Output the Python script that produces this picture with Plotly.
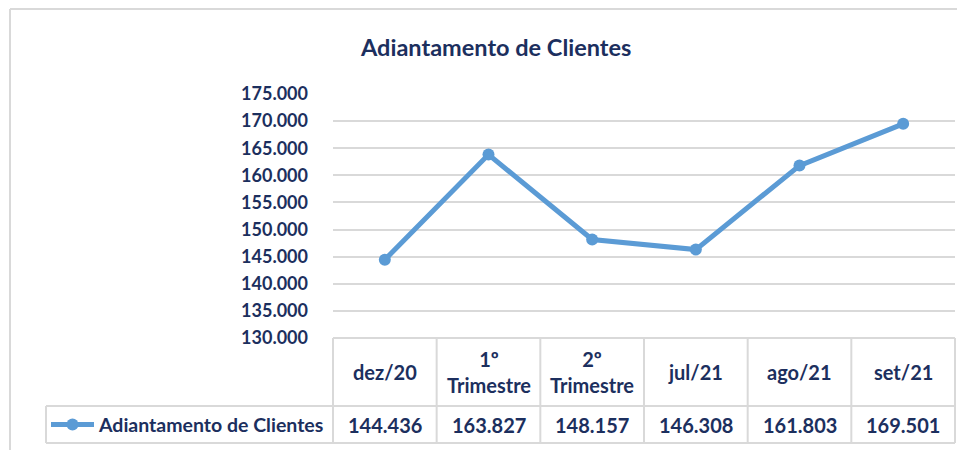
import plotly.graph_objects as go

categories = ["dez/20", "1º<br>Trimestre", "2º<br>Trimestre", "jul/21", "ago/21", "set/21"]
values = [144436, 163827, 148157, 146308, 161803, 169501]
series_name = "Adiantamento de Clientes"
title_text = "Adiantamento de Clientes"
y_ticks = [130000, 135000, 140000, 145000, 150000, 155000, 160000, 165000, 170000, 175000]

# page body has an 8px margin; figure coords = screen coords - 8
OFF = 8
W, H = 965 - OFF, 450 - OFF
L = 333 - OFF
R = W - (955 - OFF)
T = 94 - OFF
B = H - (338 - OFF)
PW = W - L - R
PH = H - T - B
NAVY = "#1C2F5E"
BLUE = "#5B9BD5"
GRID = "#D9D9D9"
FONT = "Lato"


def px(x):
    return (x - OFF - L) / PW


def py(y):
    return (H - B - (y - OFF)) / PH


def fmt(v):
    return f"{v:,}".replace(",", ".")


x_idx = list(range(len(categories)))

fig = go.Figure()
fig.add_trace(go.Scatter(
    x=x_idx, y=values, mode="lines+markers", name=series_name,
    line=dict(color=BLUE, width=5),
    marker=dict(color=BLUE, size=12),
    hoverinfo="skip", showlegend=False,
))

shapes = []
annotations = []

# outer chart border (left and top)
shapes.append(dict(type="line", xref="paper", yref="paper", x0=px(10), x1=px(965), y0=py(9), y1=py(9),
                   line=dict(color=GRID, width=2)))
shapes.append(dict(type="line", xref="paper", yref="paper", x0=px(10), x1=px(10), y0=py(9), y1=py(450),
                   line=dict(color=GRID, width=2)))

# data table
n = len(categories)
col_w = 1.0 / n
y_top = 0.0
y_mid = py(406)
y_bot = py(443)
x_leg = px(46)
for y0, xs in ((y_top, 0), (y_mid, x_leg), (y_bot, x_leg)):
    shapes.append(dict(type="line", xref="paper", yref="paper", x0=xs, x1=1, y0=y0, y1=y0,
                       line=dict(color=GRID, width=2)))
for i in range(n + 1):
    shapes.append(dict(type="line", xref="paper", yref="paper", x0=i * col_w, x1=i * col_w, y0=y_top, y1=y_bot,
                       line=dict(color=GRID, width=2)))
shapes.append(dict(type="line", xref="paper", yref="paper", x0=x_leg, x1=x_leg, y0=y_mid, y1=y_bot,
                   line=dict(color=GRID, width=2)))

for i, (c, v) in enumerate(zip(categories, values)):
    xc = (i + 0.5) * col_w
    annotations.append(dict(xref="paper", yref="paper", x=xc, y=(y_top + y_mid) / 2, text=c,
                            showarrow=False, xanchor="center", yanchor="middle",
                            font=dict(family=FONT, size=20, color=NAVY, weight="bold")))
    annotations.append(dict(xref="paper", yref="paper", x=xc, y=(y_mid + y_bot) / 2, text=fmt(v),
                            showarrow=False, xanchor="center", yanchor="middle",
                            font=dict(family=FONT, size=20, color=NAVY, weight="bold")))

# legend key in table
ly = (y_mid + y_bot) / 2
shapes.append(dict(type="line", xref="paper", yref="paper", x0=px(51), x1=px(94), y0=ly, y1=ly,
                   line=dict(color=BLUE, width=5)))
shapes.append(dict(type="circle", xref="paper", yref="paper", x0=px(66.5), x1=px(78.5),
                   y0=ly - 6 / PH, y1=ly + 6 / PH, fillcolor=BLUE, line=dict(color=BLUE, width=0)))
annotations.append(dict(xref="paper", yref="paper", x=px(96), y=ly, text=series_name,
                        showarrow=False, xanchor="left", yanchor="middle",
                        font=dict(family=FONT, size=19.5, color=NAVY, weight="bold")))

# title
annotations.append(dict(xref="paper", yref="paper", x=px(495), y=py(47), text=title_text,
                        showarrow=False, xanchor="center", yanchor="middle",
                        font=dict(family=FONT, size=23.5, color=NAVY, weight="bold")))

fig.update_layout(
    width=W, height=H,
    margin=dict(l=L, r=R, t=T, b=B),
    paper_bgcolor="white", plot_bgcolor="white",
    separators=",.",
    shapes=shapes, annotations=annotations,
    xaxis=dict(range=[-0.5, n - 0.5], showgrid=False, zeroline=False, showticklabels=False,
               showline=False, fixedrange=True),
    yaxis=dict(range=[130000, 175000], tickvals=y_ticks, tickformat=",.0f",
               showgrid=True, gridcolor=GRID, gridwidth=2, zeroline=False, showline=False,
               ticks="", ticklabelstandoff=24,
               tickfont=dict(family=FONT, size=18, color=NAVY, weight="bold"), fixedrange=True),
)

fig.write_html("out.html")
